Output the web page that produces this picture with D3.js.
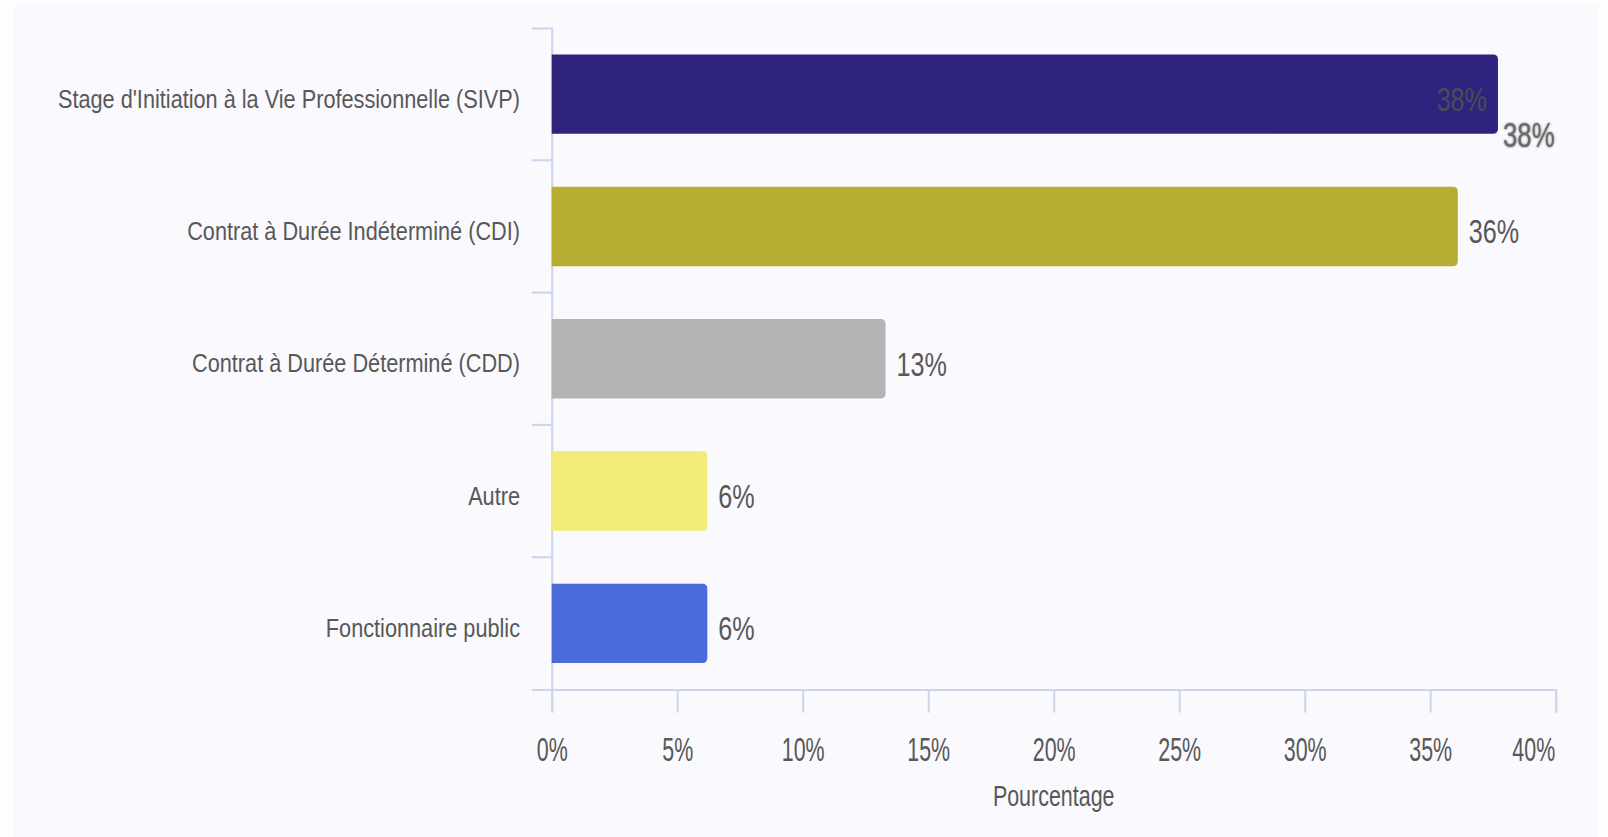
<!DOCTYPE html>
<html>
<head>
<meta charset="utf-8">
<script src="https://cdn.jsdelivr.net/npm/d3@7"></script>
<style>
  html, body { margin: 0; padding: 0; background: #fdfdfd; }
  svg { display: block; }
  text { font-family: "Liberation Sans", Arial, sans-serif; }
</style>
</head>
<body>
<svg id="chart" width="1608" height="837"></svg>
<script>
// ---- data ----
const categories = [
  "Stage d'Initiation à la Vie Professionnelle (SIVP)",
  "Contrat à Durée Indéterminé (CDI)",
  "Contrat à Durée Déterminé (CDD)",
  "Autre",
  "Fonctionnaire public"
];
const values = [37.7, 36.1, 13.3, 6.2, 6.2];
const colors = ["#2f247d", "#b7ad31", "#b4b4b4", "#f3eb78", "#4a6cdb"];
const xTicks = [0, 5, 10, 15, 20, 25, 30, 35, 40];
const xTitle = "Pourcentage";

(function () {
// ---- layout ----
const svg = d3.select("#chart");
const pLeft = 551.7, pRight = 1555.7, pTop = 28, pBottom = 689.5;

svg.append("rect").attr("x", 14).attr("y", 5).attr("width", 1584).attr("height", 832).attr("fill", "#f9f9fe");

const x = d3.scaleLinear().domain([0, 40]).range([pLeft, pRight]);
const y = d3.scaleBand().domain(categories).range([pTop, pBottom]).paddingInner(0.4).paddingOuter(0.2);

const axisColor = "#cbd5ec";
const textColor = "#585858";

// y axis (domain with outer ticks at top/bottom)
const gy = svg.append("g").attr("transform", `translate(${pLeft},0)`)
  .call(d3.axisLeft(y).tickValues([]).tickSizeOuter(20));
gy.select(".domain").attr("stroke", axisColor).attr("stroke-width", 2);
const boundaries = categories.slice(1).map(c => y(c) - y.step() * y.paddingOuter());
gy.selectAll("line.bt").data(boundaries).enter().append("line")
  .attr("class", "bt").attr("x1", -20).attr("x2", 0).attr("y1", d => d).attr("y2", d => d)
  .attr("stroke", axisColor).attr("stroke-width", 2);

// x axis
const gx = svg.append("g").attr("transform", `translate(0,${pBottom})`)
  .call(d3.axisBottom(x).tickValues(xTicks).tickSize(23).tickSizeOuter(23).tickFormat(d => d + "%"));
gx.select(".domain").attr("stroke", axisColor).attr("stroke-width", 2);
gx.selectAll(".tick line").attr("stroke", axisColor).attr("stroke-width", 2);
gx.selectAll(".tick text").remove();
const lastTick = xTicks[xTicks.length - 1];
gx.selectAll(".tick").append("text")
  .attr("transform", d => `translate(${d === lastTick ? -1 : 0},71) scale(0.63,1)`)
  .attr("text-anchor", d => d === lastTick ? "end" : "middle")
  .attr("font-size", 34)
  .attr("fill", textColor)
  .text(d => d + "%");

// x title
svg.append("text")
  .attr("transform", `translate(${(pLeft + pRight) / 2},806) scale(0.74,1)`)
  .attr("text-anchor", "middle").attr("font-size", 29).attr("fill", textColor)
  .text(xTitle);

// category labels
svg.selectAll("text.cat").data(categories).enter().append("text")
  .attr("class", "cat")
  .attr("transform", d => `translate(520,${y(d) + y.bandwidth() / 2 + 13.5}) scale(0.835,1)`)
  .attr("text-anchor", "end").attr("font-size", 26).attr("fill", textColor)
  .text(d => d);

// bars with rounded right corners
const r = 5;
function barPath(v, c) {
  const x0 = x(0), x1 = x(v), y0 = y(c), h = y.bandwidth();
  return `M${x0},${y0}H${x1 - r}Q${x1},${y0} ${x1},${y0 + r}V${y0 + h - r}Q${x1},${y0 + h} ${x1 - r},${y0 + h}H${x0}Z`;
}
svg.selectAll("path.bar").data(categories).enter().append("path")
  .attr("class", "bar")
  .attr("d", (c, i) => barPath(values[i], c))
  .attr("fill", (c, i) => colors[i]);

// value labels
const defs = svg.append("defs");
const f = defs.append("filter").attr("id", "soft").attr("x", "-20%").attr("y", "-20%").attr("width", "140%").attr("height", "140%");
f.append("feGaussianBlur").attr("in", "SourceGraphic").attr("stdDeviation", 1.2).attr("result", "b");
const fm = f.append("feMerge");
fm.append("feMergeNode").attr("in", "b");
fm.append("feMergeNode").attr("in", "SourceGraphic");

categories.forEach((c, i) => {
  const v = values[i];
  const cy = y(c) + y.bandwidth() / 2;
  if (i === 0) {
    svg.append("text")
      .attr("transform", `translate(${x(v) - 11},${cy + 17}) scale(0.74,1)`)
      .attr("text-anchor", "end").attr("font-size", 34).attr("fill", "#4b4b55")
      .text(Math.round(v) + "%");
    svg.append("text")
      .attr("transform", `translate(${x(v) + 5},${y(c) + y.bandwidth() + 13}) scale(0.74,1)`)
      .attr("text-anchor", "start").attr("font-size", 35).attr("fill", "#6a6a6a")
      .attr("filter", "url(#soft)")
      .text(Math.round(v) + "%");
  } else {
    svg.append("text")
      .attr("transform", `translate(${x(v) + 11},${cy + 17}) scale(0.74,1)`)
      .attr("text-anchor", "start").attr("font-size", 34).attr("fill", textColor)
      .text(Math.round(v) + "%");
  }
});
})();
</script>
</body>
</html>
